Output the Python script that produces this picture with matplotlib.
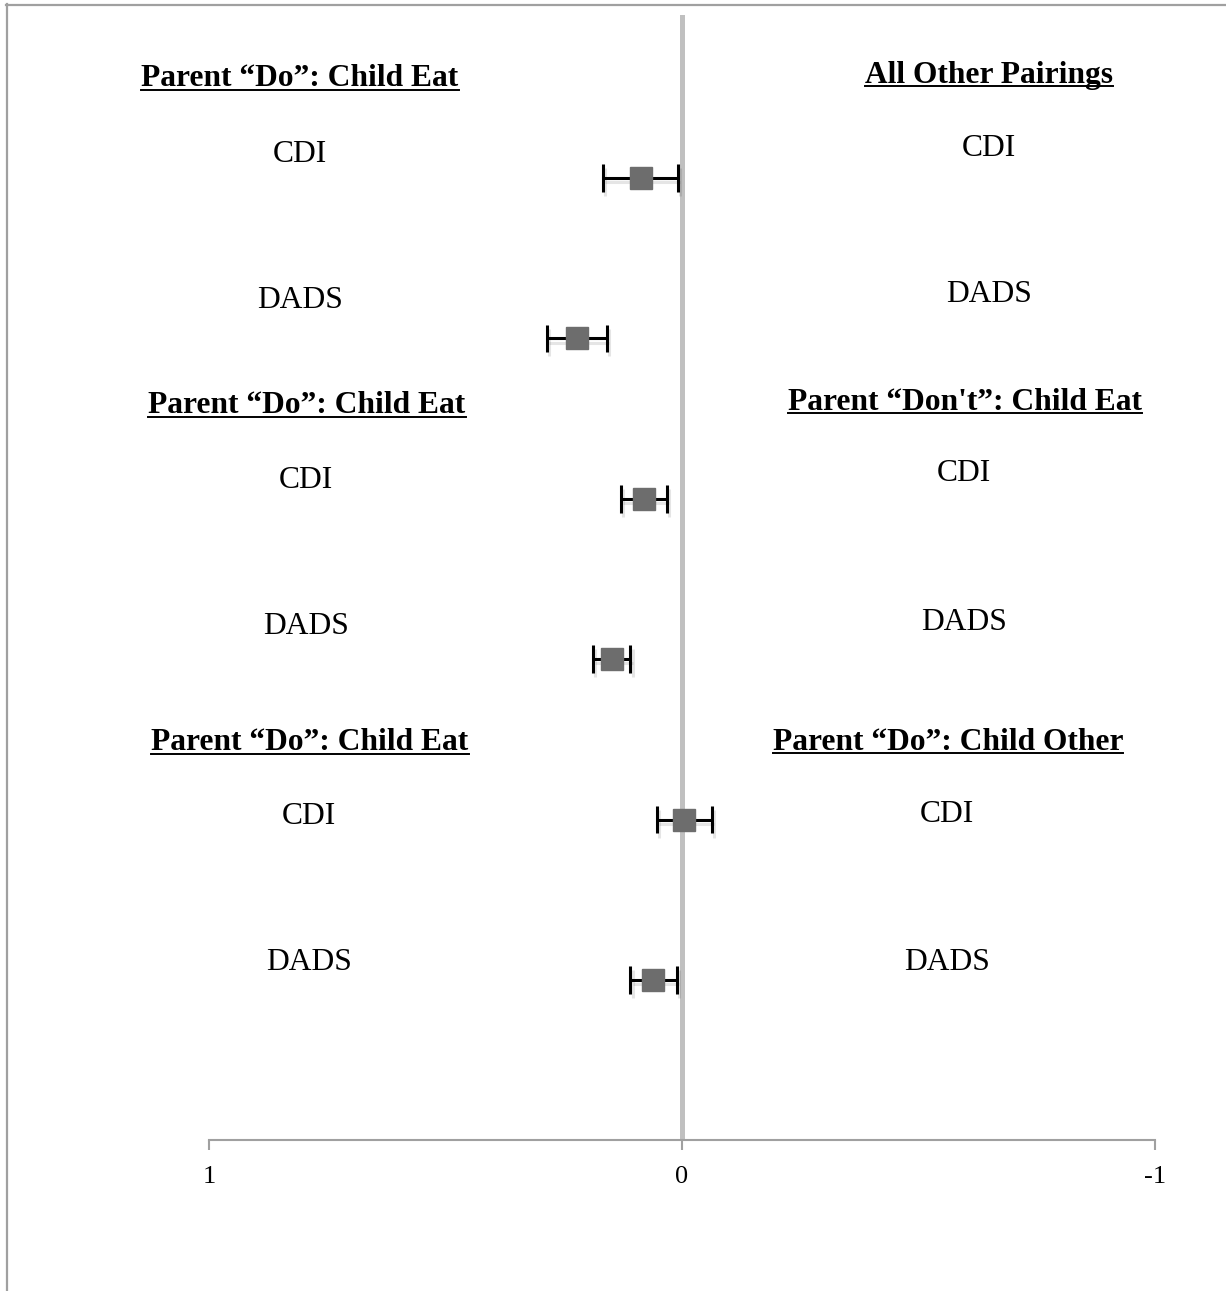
import matplotlib
matplotlib.use("Agg")
import matplotlib.pyplot as plt
import matplotlib.patheffects as pe
from matplotlib.lines import Line2D
import numpy as np

# ---- data -------------------------------------------------------------
measures = ["CDI", "DADS", "CDI", "DADS", "CDI", "DADS"]
estimates = [0.086, 0.221, 0.081, 0.147, -0.005, 0.061]
ci_high = [0.168, 0.285, 0.130, 0.188, 0.052, 0.109]
ci_low = [0.008, 0.159, 0.031, 0.109, -0.063, 0.011]
left_titles = ["Parent \u201cDo\u201d: Child Eat",
               "Parent \u201cDo\u201d: Child Eat",
               "Parent \u201cDo\u201d: Child Eat"]
right_titles = ["All Other Pairings",
                "Parent \u201cDon't\u201d: Child Eat",
                "Parent \u201cDo\u201d: Child Other"]
x_ticks = [1, 0, -1]
x_ticklabels = ["1", "0", "-1"]

# ---- figure -----------------------------------------------------------
W, H, DPI = 1226, 1291, 100
fig = plt.figure(figsize=(W / DPI, H / DPI), dpi=DPI)
fig.patch.set_facecolor("white")
SERIF = ["Liberation Serif", "DejaVu Serif"]


def fx(px):
    return px / W


def fy(py):
    return 1 - py / H


ax_left, ax_right, ax_top, ax_bottom = 209, 1155, 15, 1140
ax = fig.add_axes([fx(ax_left), fy(ax_bottom),
                   fx(ax_right) - fx(ax_left), fy(ax_top) - fy(ax_bottom)])
ax.set_xlim(1, -1)
row0, step = 178, 160.4
ax.set_ylim((ax_bottom - row0) / step, (ax_top - row0) / step)
ax.set_facecolor("none")

ypos = np.arange(len(estimates))
est = np.array(estimates)
xerr = [est - np.array(ci_low), np.array(ci_high) - est]

ax.axvline(0, color="#c0c0c0", lw=3.6, zorder=1)

shadow = [pe.SimpleLineShadow(offset=(1.5, -3), shadow_color="#000000", alpha=0.10),
          pe.Normal()]
eb = ax.errorbar(est, ypos, xerr=xerr, fmt="none", ecolor="black",
                 elinewidth=2.2, capsize=10, capthick=2.2, zorder=2)
for art in list(eb.lines[1]) + list(eb.lines[2]):
    art.set_path_effects(shadow)
ax.plot(est, ypos, linestyle="none", marker="s", markersize=16,
        markerfacecolor="#6d6d6d", markeredgecolor="#6d6d6d", zorder=3)

for s in ("left", "right", "top"):
    ax.spines[s].set_visible(False)
ax.spines["bottom"].set_color("#a0a0a0")
ax.spines["bottom"].set_linewidth(1.5)
ax.set_yticks([])
ax.set_xticks(x_ticks)
ax.set_xticklabels(x_ticklabels, fontfamily=SERIF, fontsize=19)
ax.tick_params(axis="x", direction="out", length=7, width=1.5,
               color="#a0a0a0", pad=12)

# ---- text annotations -------------------------------------------------
CAP = 10.5  # half cap-height in pixels for the label font


def label(x, y, s, bold=False):
    return fig.text(fx(x), fy(y + CAP), s, ha="center", va="baseline",
                    fontfamily=SERIF, fontsize=22.7,
                    fontweight="bold" if bold else "normal", color="black")


titles = []
left_title_pos = [(300, 76), (307, 403), (310, 740)]
right_title_pos = [(989, 72), (965, 399), (948, 739)]
for (x, y), s in zip(left_title_pos, left_titles):
    titles.append((label(x, y, s, bold=True), y))
for (x, y), s in zip(right_title_pos, right_titles):
    titles.append((label(x, y, s, bold=True), y))

left_meas_pos = [(300, 152), (300, 298), (306, 477), (306, 624), (309, 813), (309, 960)]
right_meas_pos = [(989, 145), (989, 292), (964, 471), (964, 620), (947, 811), (947, 959)]
for (x, y), s in zip(left_meas_pos, measures):
    label(x, y, s)
for (x, y), s in zip(right_meas_pos, measures):
    label(x, y, s)

# underline the bold group titles
fig.canvas.draw()
renderer = fig.canvas.get_renderer()
for t, y in titles:
    bb = t.get_window_extent(renderer)
    uy = fy(y + CAP + 3.5)
    fig.add_artist(Line2D([bb.x0 / W, bb.x1 / W], [uy, uy],
                          transform=fig.transFigure, color="black", lw=1.4))

# page frame
fig.add_artist(Line2D([fx(6), fx(W)], [fy(4.5), fy(4.5)],
                      transform=fig.transFigure, color="#a0a0a0", lw=1.6))
fig.add_artist(Line2D([fx(7), fx(7)], [fy(4), fy(H)],
                      transform=fig.transFigure, color="#a0a0a0", lw=1.6))

fig.savefig("out.png", dpi=DPI, facecolor="white")
